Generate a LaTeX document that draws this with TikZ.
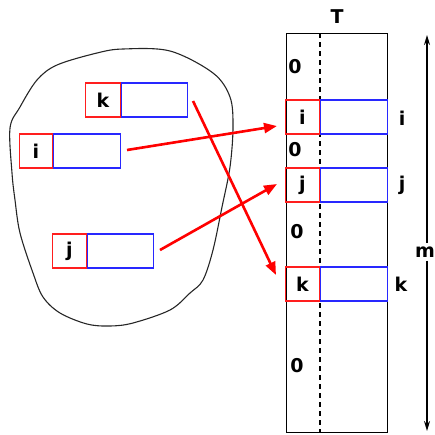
\documentclass[tikz,border=0pt]{standalone}
\usepackage{fontspec}
\setmainfont{DejaVu Sans}
\usetikzlibrary{arrows.meta}
\definecolor{cellblue}{RGB}{40,40,255}
\definecolor{cellred}{RGB}{255,30,30}
\begin{document}
\begin{tikzpicture}[x=1pt,y=-1pt,
  lbl/.style={font=\fontsize{19}{19}\selectfont\bfseries,text=black},
  redcell/.style={draw=cellred,line width=1.3pt,inner sep=0pt,minimum height=34pt,minimum width=34pt},
  bluecell/.style={draw=cellblue,line width=1.3pt,inner sep=0pt,minimum height=34pt,minimum width=67pt,anchor=west},
  redarrow/.style={draw=red,fill=red,line width=2.6pt,-{Triangle[length=13pt,width=10pt]}},
  marrow/.style={draw=black,fill=black,line width=1.6pt,-{Stealth[length=10pt,width=6pt]}}]
\useasboundingbox (0,0) rectangle (435,434);
% blob
\draw[line width=1.1pt,black!85] plot[smooth cycle,tension=0.55] coordinates {
 (123,49) (170,51) (213,73) (230,97) (233,127) (230,167) (222,207) (213,250)
 (203,280) (190,293) (170,310) (133,323) (110,326) (87,324) (60,313) (43,297)
 (33,273) (20,233) (15,200) (12,173) (10,128) (20,107) (37,80) (57,65) (97,53)};
% table
\node[draw=black,line width=1.2pt,inner sep=0pt,minimum width=101pt,minimum height=399pt,anchor=north west] (T) at (286,33) {};
\draw[draw=black,line width=1.2pt,dash pattern=on 5pt off 4pt] (320,33) coordinate (dt) -- (320,432) coordinate (db);
% table rows (blue first, red on top)
\node[bluecell] (tib) at (320,117) {};
\node[redcell,anchor=east] (ti) at (tib.west) {};
\node[bluecell] (tjb) at (320,185) {};
\node[redcell,anchor=east] (tj) at (tjb.west) {};
\node[bluecell] (tkb) at (320,284) {};
\node[redcell,anchor=east] (tk) at (tkb.west) {};
% left boxes
\node[bluecell,minimum width=66pt,minimum height=34pt] (kb) at (121,100) {};
\node[redcell,minimum width=35pt,anchor=east] (k) at (kb.west) {};
\node[bluecell] (ib) at (53,151) {};
\node[redcell,minimum width=33pt,anchor=east] (i) at (ib.west) {};
\node[bluecell,minimum width=66pt] (jb) at (87,251) {};
\node[redcell,anchor=east] (j) at (jb.west) {};
% arrows
\coordinate (ia) at (127,150); \coordinate (ie) at (277,126);
\coordinate (ja) at (160,250); \coordinate (je) at (277,184);
\coordinate (ka) at (193,101); \coordinate (ke) at (276,275);
\draw[redarrow] (ia) -- (ie);
\draw[redarrow] (ja) -- (je);
\draw[redarrow] (ka) -- (ke);
% labels
\node[lbl] (Tl) at (337,17) {T};
\node[lbl] (z1) at (295,67) {0};
\node[lbl] (z2) at (295,150) {0};
\node[lbl] (z3) at (297,232) {0};
\node[lbl] (z4) at (297,366) {0};
\node[lbl] (til) at (ti.center) {i};
\node[lbl] (tjl) at (tj.center) {j};
\node[lbl] (tkl) at (tk.center) {k};
\node[lbl] (ri) at (402,118) {i};
\node[lbl] (rj) at (402,185) {j};
\node[lbl] (rk) at (401,284) {k};
\node[lbl] (kl) at (k.center) {k};
\node[lbl] (il) at (i.center) {i};
\node[lbl] (jl) at (j.center) {j};
% m arrow
\node[lbl] (m) at (425,252) {m};
\coordinate (mt) at (427,35); \coordinate (mb) at (427,431);
\draw[marrow] (m.north -| mt) -- (mt);
\draw[marrow] (m.south -| mb) -- (mb);
\end{tikzpicture}
\end{document}
